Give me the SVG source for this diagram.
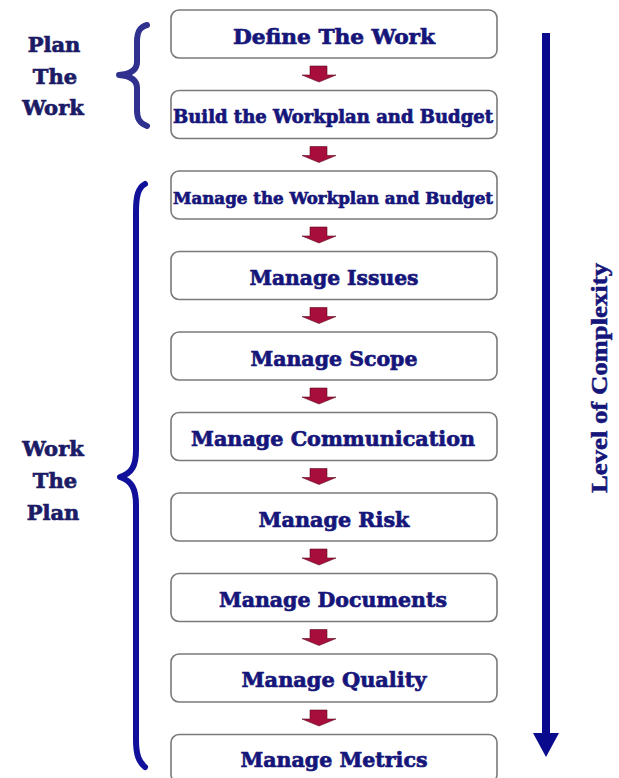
<svg xmlns="http://www.w3.org/2000/svg" width="619" height="778" viewBox="0 0 619 778">
<defs>
<style>
.box{fill:#ffffff;stroke:#7a7a7a;stroke-width:1.6}
.t{font-family:"DejaVu Serif","Liberation Serif",serif;font-weight:bold;fill:#16167a;stroke:#16167a;stroke-width:0.7;text-anchor:middle}
.side{font-family:"DejaVu Serif","Liberation Serif",serif;font-weight:bold;font-size:21px;fill:#1c1c66;stroke:#1c1c66;stroke-width:0.7;text-anchor:middle}
.arr{fill:#a80e3c;stroke:#5a0a20;stroke-width:0.6}
.brace{fill:none;stroke-linecap:round;stroke-linejoin:round}
</style>
<polygon id="dn" class="arr" points="-9,0 8,0 8,9 17,9 0,16 -17,9 -9,9"/>
</defs>
<rect width="619" height="778" fill="#ffffff"/>

<g id="label-plan-the-work">
<text class="side" x="54" y="52">Plan</text>
<text class="side" x="55" y="84">The</text>
<text class="side" x="53" y="115">Work</text>
<path class="brace" stroke="#30308f" stroke-width="6" d="M147,25 C139,27 137,33 137,42 L137,62 C137,70 131,74 119,75 C131,76 137,80 137,88 L137,110 C137,118 139,123 147,126"/>
</g>

<g id="label-work-the-plan">
<text class="side" x="53" y="456">Work</text>
<text class="side" x="55" y="488">The</text>
<text class="side" x="53" y="520">Plan</text>
<path class="brace" stroke="#10109a" stroke-width="6" d="M145,184 C138,188 136,196 136,212 L136,450 C136,466 132,473 120,477 C132,481 136,489 136,505 L136,740 C136,755 139,762 145,767"/>
</g>

<g id="connectors">
<use href="#dn" x="319" y="66"/>
<use href="#dn" x="319" y="146.5"/>
<use href="#dn" x="319" y="227"/>
<use href="#dn" x="319" y="307.5"/>
<use href="#dn" x="319" y="388"/>
<use href="#dn" x="319" y="468.5"/>
<use href="#dn" x="319" y="549"/>
<use href="#dn" x="319" y="629.5"/>
<use href="#dn" x="319" y="710"/>
</g>

<g id="n1"><rect class="box" x="171" y="10" width="326" height="48" rx="8"/><text class="t" x="334" y="44" font-size="21" textLength="202" lengthAdjust="spacingAndGlyphs">Define The Work</text></g>
<g id="n2"><rect class="box" x="171" y="90.5" width="326" height="48" rx="8"/><text class="t" x="333" y="123" font-size="18" textLength="320" lengthAdjust="spacingAndGlyphs">Build the Workplan and Budget</text></g>
<g id="n3"><rect class="box" x="171" y="171" width="326" height="48" rx="8"/><text class="t" x="333" y="204" font-size="17" textLength="320" lengthAdjust="spacingAndGlyphs">Manage the Workplan and Budget</text></g>
<g id="n4"><rect class="box" x="171" y="251.5" width="326" height="48" rx="8"/><text class="t" x="334" y="285" font-size="21" textLength="169" lengthAdjust="spacingAndGlyphs">Manage Issues</text></g>
<g id="n5"><rect class="box" x="171" y="332" width="326" height="48" rx="8"/><text class="t" x="334" y="366" font-size="21" textLength="167" lengthAdjust="spacingAndGlyphs">Manage Scope</text></g>
<g id="n6"><rect class="box" x="171" y="412.5" width="326" height="48" rx="8"/><text class="t" x="333" y="446" font-size="21" textLength="284" lengthAdjust="spacingAndGlyphs">Manage Communication</text></g>
<g id="n7"><rect class="box" x="171" y="493" width="326" height="48" rx="8"/><text class="t" x="334" y="527" font-size="21" textLength="151" lengthAdjust="spacingAndGlyphs">Manage Risk</text></g>
<g id="n8"><rect class="box" x="171" y="573.5" width="326" height="48" rx="8"/><text class="t" x="333" y="607" font-size="21" textLength="228" lengthAdjust="spacingAndGlyphs">Manage Documents</text></g>
<g id="n9"><rect class="box" x="171" y="654" width="326" height="48" rx="8"/><text class="t" x="334" y="687" font-size="21" textLength="185" lengthAdjust="spacingAndGlyphs">Manage Quality</text></g>
<g id="n10"><rect class="box" x="171" y="734.5" width="326" height="48" rx="8"/><text class="t" x="334" y="767" font-size="21" textLength="187" lengthAdjust="spacingAndGlyphs">Manage Metrics</text></g>

<g id="complexity">
<rect x="542" y="33" width="8" height="702" fill="#0a0a8c"/>
<polygon points="533,733 559,733 546,757" fill="#0a0a8c"/>
<text x="0" y="0" transform="translate(607,378) rotate(-90)" font-family="'Liberation Serif',serif" font-weight="bold" font-size="23" fill="#16167a" stroke="#16167a" stroke-width="0.5" text-anchor="middle" textLength="230" lengthAdjust="spacingAndGlyphs">Level of Complexity</text>
</g>
</svg>
